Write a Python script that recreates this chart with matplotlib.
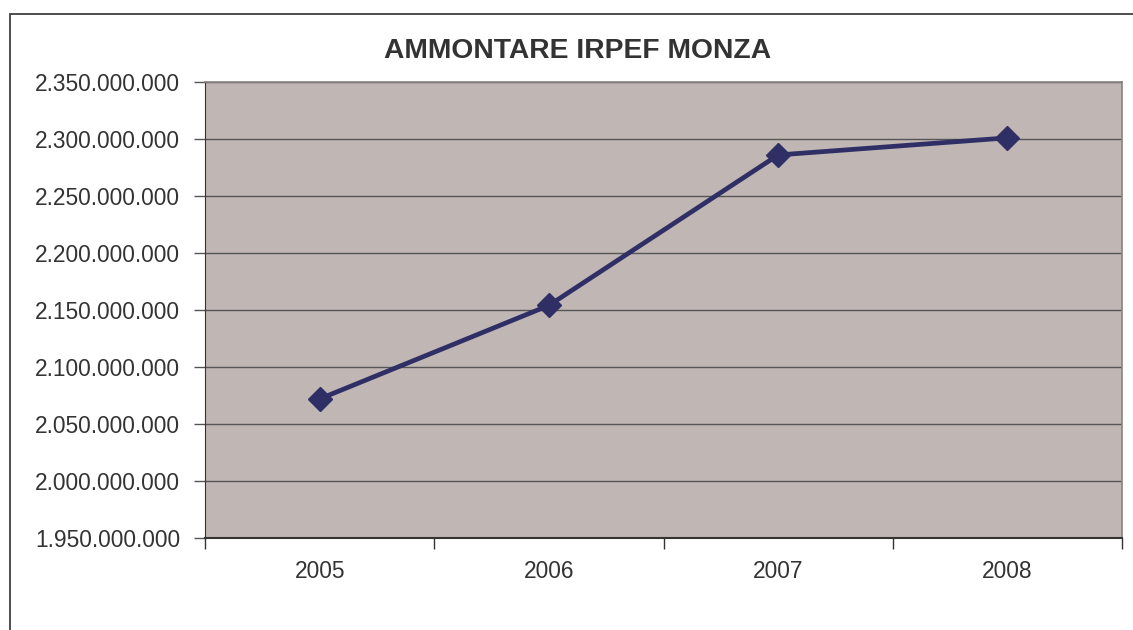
import matplotlib
matplotlib.use("Agg")
import matplotlib.pyplot as plt
from matplotlib.patches import Rectangle
from matplotlib.ticker import FuncFormatter

# Data
years = ["2005", "2006", "2007", "2008"]
irpef = [2_072_000_000, 2_154_000_000, 2_286_000_000, 2_301_000_000]
y_ticks = [1_950_000_000 + 50_000_000 * i for i in range(9)]

plt.rcParams["font.family"] = ["Liberation Sans", "DejaVu Sans"]

TEXT = "#333333"
LINE = "#2F2F66"

fig = plt.figure(figsize=(11.33, 6.3), dpi=100)

# outer chart frame (right and bottom edges fall outside the picture)
fig.patches.append(Rectangle((10 / 1133, -0.1), 1.2, 1 - 13.5 / 630 + 0.1,
                             transform=fig.transFigure, fill=False,
                             edgecolor="#404040", linewidth=1.3))

ax = fig.add_axes([205 / 1133, 1 - 538 / 630, 917 / 1133, 456 / 630])
ax.set_facecolor("#C0B7B4")

x = range(len(years))
ax.plot(x, irpef, color=LINE, linewidth=3.4, marker="D", markersize=12,
        markerfacecolor=LINE, markeredgecolor=LINE, zorder=3)

ax.set_xlim(-0.5, len(years) - 0.5)
ax.set_ylim(y_ticks[0], y_ticks[-1])

ax.set_yticks(y_ticks)
ax.yaxis.set_major_formatter(FuncFormatter(lambda v, _: f"{int(v):,}".replace(",", ".")))
ax.grid(axis="y", color="#555555", linewidth=1.0)
ax.set_axisbelow(True)

# categories centred between tick marks at the boundaries
ax.set_xticks([i + 0.5 for i in range(-1, len(years))])
ax.set_xticklabels([])
ax.set_xticks(list(x), minor=True)
ax.set_xticklabels(years, minor=True)
ax.tick_params(axis="x", which="major", direction="out", length=8, width=1, color="#333333")
ax.tick_params(axis="x", which="minor", length=0, pad=16, labelsize=16.4, labelcolor=TEXT)
ax.tick_params(axis="y", direction="out", length=8, width=1, color="#555555",
               labelsize=16.4, labelcolor=TEXT, pad=10)

for side in ("top", "right"):
    ax.spines[side].set_color("#8A8280")
    ax.spines[side].set_linewidth(1.2)
ax.spines["left"].set_color("#333333")
ax.spines["bottom"].set_color("#333333")
ax.spines["bottom"].set_linewidth(1.5)

fig.text(578 / 1133, 1 - 51 / 630, "AMMONTARE IRPEF MONZA", ha="center", va="center",
         fontsize=20.3, fontweight="bold", color=TEXT)

fig.savefig("out.png", dpi=100, facecolor="white")
